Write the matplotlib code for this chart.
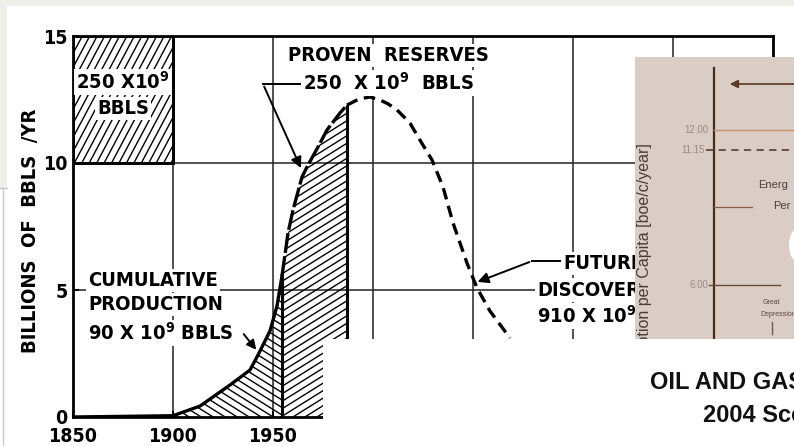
import matplotlib
matplotlib.use('Agg')
import numpy as np
import matplotlib.pyplot as plt
import matplotlib.font_manager as fm
from matplotlib.patches import Rectangle, Ellipse

# Hubbert style curve, billions of bbls / yr
years_hist = [1850, 1860, 1870, 1880, 1890, 1900, 1913.5, 1928.5, 1938.5, 1942.5, 1948.5, 1952, 1954.5]
prod_hist = [0.0, 0.01, 0.02, 0.03, 0.04, 0.05, 0.43, 1.26, 1.85, 2.44, 3.39, 4.37, 5.55]

years_res = [1954.5, 1957.5, 1960, 1964.5, 1967.5, 1972.5, 1977, 1983.5, 1987]
prod_res = [5.55, 7.24, 8.15, 9.45, 9.92, 10.63, 11.3, 11.97, 12.28]

years_fut = [1987, 1993, 1998.5, 2003.5, 2007.5, 2012, 2018.5, 2023.5, 2029.5, 2035, 2040, 2047, 2052, 2058.5, 2068.5]
prod_fut = [12.28, 12.52, 12.6, 12.48, 12.33, 12.09, 11.57, 10.9, 10.12, 9.06, 7.64, 6.06, 5.08, 4.17, 3.11]

x_ticks = [1850, 1900, 1950]
y_ticks = [0, 5, 10, 15]
grid_years = [1900, 1950, 2000, 2050, 2100, 2150]
grid_vals = [5, 10]

# font for the hand lettering
names = {f.name for f in fm.fontManager.ttflist}
if 'Liberation Sans Narrow' in names:
    LETTER, STRETCH = 'Liberation Sans Narrow', 'normal'
else:
    LETTER, STRETCH = 'DejaVu Sans', 'condensed'
TXT = dict(family=LETTER, fontweight='bold', fontstretch=STRETCH, fontsize=14.5)
WHITE = dict(fc='white', ec='none', pad=1.5)

AX_W, AX_H = 700, 381  # axes size in pixels


def hatch(ax, clip, angle, step, lw=1.0):
    # parallel pen strokes across the axes, clipped to a shape
    t = np.tan(np.radians(angle))
    xs = np.array([0.0, AX_W])
    span = abs(t) * AX_W
    for c in np.arange(-span, AX_H + span, step):
        ln, = ax.plot(xs / AX_W, (t * xs + c) / AX_H, transform=ax.transAxes,
                      color='k', lw=lw, zorder=2, solid_capstyle='butt')
        if isinstance(clip, tuple):
            ln.set_clip_path(*clip)
        else:
            ln.set_clip_path(clip)


fig = plt.figure(figsize=(7.94, 4.46), dpi=100)
fig.patch.set_facecolor('#efefea')

# page background (pixel coords)
bg = fig.add_axes([0, 0, 1, 1], zorder=0)
bg.set_xlim(0, 794)
bg.set_ylim(446, 0)
bg.axis('off')
bg.add_patch(Rectangle((7, 6), 787, 440, fc='white', ec='none'))
bg.add_patch(Rectangle((0, 188), 7, 258, fc='white', ec='none'))
bg.plot([0, 7], [188, 188], color='#c8c8c8', lw=1)
bg.plot([3, 3], [188, 446], color='#c8c8c8', lw=1)

# main chart
ax = fig.add_axes([73 / 794, 1 - 417 / 446, AX_W / 794, AX_H / 446], zorder=1)
ax.patch.set_alpha(0)
ax.set_xlim(1850, 2200)
ax.set_ylim(0, 15)

for g in grid_years:
    ax.axvline(g, color='#222222', lw=1.1, zorder=1)
for g in grid_vals:
    ax.axhline(g, color='#222222', lw=1.1, zorder=1)

box = Rectangle((1850, 10), 50, 5, fc='white', ec='k', lw=2, zorder=2)
ax.add_patch(box)
hatch(ax, box, 62, 14)
ax.add_patch(Rectangle((1850, 10), 50, 5, fc='none', ec='k', lw=2, zorder=3))
ax.text(1875, 13.2, '250 X10$^{\\mathdefault{9}}$', ha='center', va='center', bbox=WHITE, zorder=4, **TXT)
ax.text(1875, 12.15, 'BBLS', ha='center', va='center', bbox=WHITE, zorder=4, **TXT)

area1 = ax.fill_between(years_hist, prod_hist, 0, fc='none', lw=0, zorder=2)
hatch(ax, (area1.get_paths()[0], ax.transData), -32, 7.5)
area2 = ax.fill_between(years_res, prod_res, 0, fc='none', lw=0, zorder=2)
hatch(ax, (area2.get_paths()[0], ax.transData), 32, 7.5)
ax.plot(years_hist, prod_hist, color='k', lw=2.4, zorder=3)
ax.plot(years_res, prod_res, color='k', lw=2.4, ls=(0, (6, 1)), zorder=3)
ax.plot(years_fut, prod_fut, color='k', lw=2.4, ls=(0, (3.5, 2)), zorder=3)
ax.vlines([years_res[0], years_res[-1]], 0, [prod_res[0], prod_res[-1]], colors='k', lw=2.2, zorder=3)

# annotations
ax.text(1957.5, 14.25, 'PROVEN  RESERVES', ha='left', va='center', bbox=WHITE, zorder=4, **TXT)
ax.text(1965, 13.15, '250  X 10$^{\\mathdefault{9}}$  BBLS', ha='left', va='center', bbox=WHITE, zorder=4, **TXT)
ax.plot([1963.5, 1945], [13.11, 13.11], color='k', lw=1.4, zorder=3)
ax.annotate('', xy=(1964.5, 9.7), xytext=(1945, 13.11),
            arrowprops=dict(arrowstyle='-|>', color='k', lw=1.4, mutation_scale=16), zorder=3)

ax.text(1857.5, 5.39, 'CUMULATIVE', ha='left', va='center', bbox=WHITE, zorder=4, **TXT)
ax.text(1857.5, 4.41, 'PRODUCTION', ha='left', va='center', bbox=WHITE, zorder=4, **TXT)
ax.text(1857.5, 3.31, '90 X 10$^{\\mathdefault{9}}$ BBLS', ha='left', va='center', bbox=WHITE, zorder=4, **TXT)
ax.annotate('', xy=(1942.5, 2.56), xytext=(1934.5, 3.35),
            arrowprops=dict(arrowstyle='-|>', color='k', lw=1.4, mutation_scale=14), zorder=3)

ax.text(2095, 6.06, 'FUTURE', ha='left', va='center', bbox=WHITE, zorder=4, **TXT)
ax.text(2082, 5.0, 'DISCOVERIES', ha='left', va='center', bbox=WHITE, zorder=4, **TXT)
ax.text(2082, 3.98, '910 X 10$^{\\mathdefault{9}}$ BBLS', ha='left', va='center', bbox=WHITE, zorder=4, **TXT)
ax.plot([2094.5, 2079.5], [6.14, 6.14], color='k', lw=1.4, zorder=3)
ax.annotate('', xy=(2051, 5.28), xytext=(2079.5, 6.14),
            arrowprops=dict(arrowstyle='-|>', color='k', lw=1.4, mutation_scale=16), zorder=3)

ax.set_xticks(x_ticks)
ax.set_yticks(y_ticks)
ax.tick_params(axis='both', direction='in', length=4, width=1.5)
ax.tick_params(axis='x', pad=7)
ax.tick_params(axis='y', pad=4)
for lab in ax.get_xticklabels() + ax.get_yticklabels():
    lab.set(family=LETTER, fontweight='bold', fontstretch=STRETCH, fontsize=14)
for s in ax.spines.values():
    s.set_linewidth(2)

fig.text(30 / 794, 1 - 231 / 446, 'BILLIONS  OF  BBLS  /YR', rotation=90, ha='center', va='center', **TXT)

# pasted pieces on top (pixel coords)
ov = fig.add_axes([0, 0, 1, 1], zorder=5)
ov.set_xlim(0, 794)
ov.set_ylim(446, 0)
ov.axis('off')

inset = Rectangle((635, 57), 159, 282, fc='#d9cdc5', ec='none', zorder=1)
ov.add_patch(inset)
brown = '#4d2c16'
ov.plot([714, 714], [68, 339], color=brown, lw=1.6)
ov.annotate('', xy=(727, 84), xytext=(800, 84),
            arrowprops=dict(arrowstyle='-|>', color='#5a3a25', lw=1.2, mutation_scale=12))
ov.plot([714, 794], [130, 130], color='#c8916a', lw=1)
ov.plot([706, 794], [150, 150], color='#5a4a40', lw=1.3, ls=(0, (4, 3)))
ov.plot([714, 752], [207, 207], color='#8a6040', lw=0.9)
ov.plot([709, 780], [285, 285], color='#6a4a30', lw=1)
ov.plot([772, 772], [322, 334], color='#6a5a50', lw=1)
grey = '#9a8a82'
ov.text(708, 130, '12.00', ha='right', va='center', fontsize=7, color=grey, family='Liberation Sans')
ov.text(705, 150, '11.15', ha='right', va='center', fontsize=7, color=grey, family='Liberation Sans')
ov.text(708, 285, '6.00', ha='right', va='center', fontsize=7, color=grey, family='Liberation Sans')
ov.text(758, 185, 'Energ', ha='left', va='center', fontsize=8, color='#4a4040', family='Liberation Sans')
ov.text(773, 206, 'Per', ha='left', va='center', fontsize=8, color='#4a4040', family='Liberation Sans')
ov.text(771, 303, 'Great', ha='center', va='center', fontsize=5, color='#5a4a44', family='Liberation Sans')
ov.text(760, 315, 'Depression', ha='left', va='center', fontsize=5, color='#5a4a44', family='Liberation Sans')
ov.add_patch(Ellipse((797, 245), 16, 32, fc='white', ec='none', zorder=2))
ov.text(645, 143, 'Energy Consumption per Capita [boe/c/year]', rotation=90, ha='center', va='top',
        fontsize=11.5, color='#4a3c36', family='Liberation Sans', zorder=3)

# white caption box pasted over the lower right
ov.add_patch(Rectangle((323, 339), 471, 107, fc='white', ec='none', zorder=10))
ov.text(650, 389, 'OIL AND GAS LIQUIDS', ha='left', va='baseline', fontsize=17, fontweight='bold',
        family='Liberation Sans', color='#111111', zorder=11)
ov.text(703, 422, '2004 Scenario', ha='left', va='baseline', fontsize=17, fontweight='bold',
        family='Liberation Sans', color='#111111', zorder=11)

fig.savefig('out.png', dpi=100, facecolor=fig.get_facecolor())
